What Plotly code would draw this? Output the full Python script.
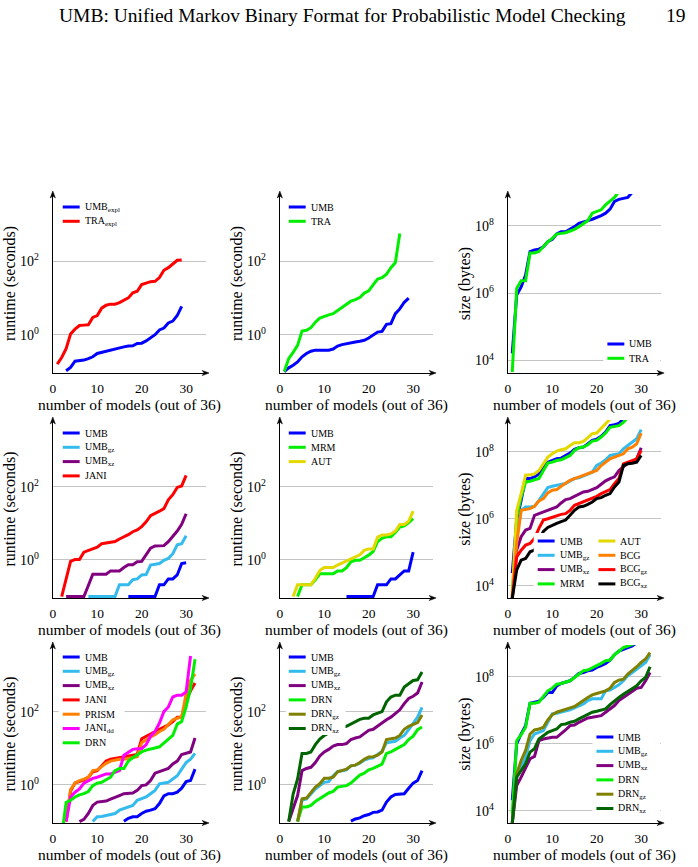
import plotly.graph_objects as go

W, H = 698, 867
SERIF = "Liberation Serif"

# ---------------- data (log10 of value; x = number of models, from *_start) ----------------
x_ticks = [0, 10, 20, 30]
runtime_tickvals = [1, 100]
runtime_ticktext = ["10<sup>0</sup>", "10<sup>2</sup>"]
size_tickvals = [1e4, 1e6, 1e8]
size_ticktext = ["10<sup>4</sup>", "10<sup>6</sup>", "10<sup>8</sup>"]
x_title = "number of models (out of 36)"

# panel 1 (runtime, seconds)
p1_umb_expl_start = 3
p1_umb_expl = [-0.98, -0.89, -0.72, -0.71, -0.69, -0.65, -0.60, -0.51, -0.48, -0.44, -0.40, -0.38, -0.36, -0.33,
               -0.31, -0.30, -0.24, -0.23, -0.17, -0.09, 0.00, 0.13, 0.18, 0.32, 0.37, 0.52, 0.77]
p1_tra_expl_start = 1
p1_tra_expl = [-0.80, -0.62, -0.38, 0.02, 0.15, 0.25, 0.26, 0.27, 0.47, 0.52, 0.72, 0.80, 0.83, 0.83, 0.87, 0.94,
               1.00, 1.14, 1.18, 1.36, 1.40, 1.44, 1.45, 1.55, 1.75, 1.82, 1.92, 2.02, 2.03]

# panel 2 (runtime)
p2_umb_start = 1
p2_umb = [-1.0, -0.9, -0.83, -0.74, -0.60, -0.51, -0.45, -0.42, -0.42, -0.42, -0.42, -0.39, -0.31, -0.27, -0.24,
          -0.22, -0.20, -0.18, -0.15, -0.09, 0.00, 0.07, 0.09, 0.28, 0.30, 0.57, 0.70, 0.88, 0.99]
p2_tra_start = 1
p2_tra = [-1.0, -0.65, -0.48, -0.29, 0.10, 0.12, 0.19, 0.34, 0.45, 0.50, 0.54, 0.57, 0.65, 0.74, 0.83, 0.91, 0.95,
          1.01, 1.13, 1.19, 1.35, 1.51, 1.55, 1.64, 1.82, 1.96, 2.75]

# panel 3 (size, bytes)
p3_umb_start = 1
p3_umb = [4.21, 5.95, 6.19, 6.54, 7.24, 7.29, 7.31, 7.38, 7.53, 7.60, 7.76, 7.83, 7.83, 7.90, 7.98, 8.08, 8.13,
          8.16, 8.20, 8.25, 8.31, 8.38, 8.50, 8.73, 8.79, 8.82, 8.85, 9.00]
p3_tra_start = 1
p3_tra = [3.66, 6.14, 6.37, 6.37, 7.20, 7.20, 7.24, 7.40, 7.53, 7.63, 7.76, 7.78, 7.80, 7.85, 7.90, 7.98, 8.08,
          8.16, 8.38, 8.43, 8.48, 8.63, 8.73, 8.85, 9.02]

# panel 4 (runtime)
p4_umb_start = 17
p4_umb = [-1, -1, -1, -1, -1, -1, -1, -0.68, -0.68, -0.52, -0.52, -0.41, -0.10, -0.08]
p4_umb_gz_start = 8
p4_umb_gz = [-1, -1, -1, -1, -1, -1, -1, -0.68, -0.68, -0.68, -0.54, -0.52, -0.41, -0.40, -0.14, -0.13, -0.10,
             -0.01, 0.04, 0.17, 0.41, 0.44, 0.66]
p4_umb_xz_start = 3
p4_umb_xz = [-1, -1, -1, -1, -1, -0.70, -0.39, -0.39, -0.39, -0.39, -0.30, -0.30, -0.30, -0.21, -0.13, -0.13,
             -0.05, -0.04, 0.13, 0.32, 0.38, 0.39, 0.39, 0.50, 0.63, 0.79, 0.97, 1.26]
p4_jani_start = 2
p4_jani = [-1, -0.5, -0.04, 0.01, 0.01, 0.21, 0.26, 0.32, 0.35, 0.44, 0.46, 0.46, 0.50, 0.57, 0.62, 0.69, 0.77,
           0.82, 0.91, 1.04, 1.21, 1.26, 1.33, 1.40, 1.64, 1.78, 1.98, 2.02, 2.31]

# panel 5 (runtime)
p5_umb_start = 15
p5_umb = [-1, -1, -1, -1, -1, -1, -1, -0.68, -0.68, -0.68, -0.52, -0.52, -0.41, -0.30, -0.30, 0.21]
p5_mrm_start = 4
p5_mrm = [-1, -0.68, -0.68, -0.68, -0.54, -0.38, -0.38, -0.38, -0.38, -0.30, -0.30, -0.21, -0.05, -0.01, -0.01,
          0.06, 0.13, 0.23, 0.50, 0.59, 0.63, 0.63, 0.75, 0.90, 0.93, 1.02, 1.13]
p5_aut_start = 3
p5_aut = [-1, -0.68, -0.68, -0.68, -0.68, -0.50, -0.29, -0.21, -0.21, -0.21, -0.14, -0.08, -0.03, 0.04, 0.10,
          0.14, 0.26, 0.30, 0.30, 0.62, 0.68, 0.68, 0.71, 0.79, 0.97, 0.97, 1.06, 1.33]

# panel 6 (size)
p6_umb_start = 1
p6_umb = [4.37, 5.96, 6.55, 7.20, 7.20, 7.25, 7.34, 7.54, 7.69, 7.74, 7.79, 7.81, 7.89, 7.96, 8.07, 8.12, 8.14,
          8.24, 8.34, 8.38, 8.46, 8.59, 8.78, 8.81, 8.85, 8.98, 9.05]
p6_umb_gz_start = 1
p6_umb_gz = [3.62, 5.46, 6.25, 6.35, 6.35, 6.37, 6.55, 6.75, 6.93, 6.97, 7.00, 7.03, 7.05, 7.13, 7.20, 7.22, 7.27,
             7.34, 7.39, 7.59, 7.66, 7.76, 7.89, 7.92, 7.94, 8.09, 8.19, 8.29, 8.39, 8.66]
p6_umb_xz_start = 1
p6_umb_xz = [3.67, 5.06, 5.46, 5.66, 5.71, 6.10, 6.15, 6.20, 6.25, 6.30, 6.35, 6.47, 6.57, 6.60, 6.67, 6.73, 6.80,
             6.82, 6.87, 6.93, 7.03, 7.13, 7.20, 7.25, 7.44, 7.54, 7.66, 7.69, 7.79, 8.12]
p6_mrm_start = 1
p6_mrm = [3.72, 6.05, 6.65, 7.10, 7.12, 7.17, 7.20, 7.44, 7.66, 7.69, 7.74, 7.76, 7.82, 7.89, 8.04, 8.12, 8.14,
          8.21, 8.32, 8.34, 8.44, 8.56, 8.73, 8.75, 8.78, 8.88, 9.03]
p6_aut_start = 1
p6_aut = [3.67, 6.25, 6.75, 7.30, 7.31, 7.34, 7.44, 7.64, 7.84, 7.94, 8.02, 8.06, 8.09, 8.19, 8.27, 8.27, 8.31,
          8.42, 8.54, 8.56, 8.70, 8.85, 8.98, 9.05]
p6_bcg_start = 1
p6_bcg = [3.62, 5.26, 6.25, 6.27, 6.30, 6.37, 6.53, 6.60, 6.77, 6.85, 6.87, 6.97, 7.05, 7.15, 7.20, 7.25, 7.30,
          7.36, 7.39, 7.44, 7.59, 7.69, 7.79, 7.84, 7.89, 7.94, 8.09, 8.14, 8.24, 8.56]
p6_bcg_gz_start = 1
p6_bcg_gz = [3.62, 4.86, 5.06, 5.21, 5.26, 5.41, 5.71, 5.96, 6.00, 6.05, 6.10, 6.13, 6.15, 6.25, 6.40, 6.45, 6.50,
             6.55, 6.60, 6.67, 6.75, 6.80, 6.87, 7.05, 7.20, 7.64, 7.69, 7.72, 7.79, 8.04]
p6_bcg_xz_start = 1
p6_bcg_xz = [3.62, 4.47, 4.76, 4.81, 5.01, 5.06, 5.35, 5.62, 5.74, 5.81, 5.86, 5.91, 5.96, 6.10, 6.25, 6.35, 6.37,
             6.43, 6.50, 6.60, 6.63, 6.70, 6.75, 6.95, 7.10, 7.59, 7.64, 7.66, 7.69, 7.89]

# panel 7 (runtime)
p7_umb_start = 16
p7_umb = [-0.99, -0.91, -0.87, -0.87, -0.78, -0.72, -0.69, -0.65, -0.51, -0.30, -0.24, -0.24, -0.20, -0.09, 0.09,
          0.12, 0.43]
p7_umb_gz_start = 9
p7_umb_gz = [-1.0, -0.87, -0.86, -0.83, -0.82, -0.78, -0.69, -0.65, -0.60, -0.56, -0.42, -0.38, -0.33, -0.24,
             -0.15, 0.03, 0.04, 0.07, 0.16, 0.25, 0.43, 0.61, 0.70, 0.86]
p7_umb_xz_start = 6
p7_umb_xz = [-1.0, -0.94, -0.78, -0.56, -0.47, -0.45, -0.44, -0.39, -0.33, -0.29, -0.24, -0.22, -0.22, -0.15,
             -0.02, 0.00, 0.12, 0.32, 0.36, 0.39, 0.45, 0.57, 0.65, 0.83, 0.86, 0.90, 1.28]
p7_jani_start = 3
p7_jani = [-1.0, -0.17, 0.05, 0.09, 0.14, 0.21, 0.36, 0.39, 0.52, 0.65, 0.70, 0.72, 0.74, 0.77, 0.79, 0.81, 0.83,
           1.26, 1.33, 1.40, 1.46, 1.52, 1.58, 1.64, 1.73, 1.85, 1.85, 2.31, 2.57, 2.78]
p7_prism_start = 3
p7_prism = [-0.99, -0.13, 0.05, 0.12, 0.16, 0.21, 0.39, 0.41, 0.50, 0.59, 0.65, 0.68, 0.70, 0.70, 0.72, 0.74, 0.77,
            1.15, 1.24, 1.31, 1.37, 1.46, 1.52, 1.64, 1.78, 1.82, 1.85, 2.49, 2.85, 3.03]
p7_jani_dd_start = 3
p7_jani_dd = [-1.0, -0.33, -0.20, -0.11, 0.05, 0.12, 0.18, 0.21, 0.25, 0.30, 0.30, 0.34, 0.39, 0.81, 0.90, 0.97,
              0.99, 0.99, 1.10, 1.33, 1.46, 1.69, 2.00, 2.13, 2.40, 2.45, 2.45, 2.54, 3.52]
p7_drn_start = 2
p7_drn = [-1.4, -0.48, -0.42, -0.33, -0.27, -0.24, -0.18, -0.02, 0.05, 0.07, 0.14, 0.21, 0.39, 0.45, 0.45, 0.65,
          0.74, 0.83, 0.90, 0.95, 0.99, 1.01, 1.04, 1.15, 1.24, 1.35, 1.66, 1.73, 2.13, 2.63, 3.43]

# panel 8 (runtime)
p8_umb_start = 16
p8_umb = [-0.99, -0.93, -0.90, -0.84, -0.81, -0.75, -0.74, -0.69, -0.47, -0.33, -0.26, -0.26, -0.24, -0.09, 0.05,
          0.12, 0.39]
p8_umb_gz_start = 4
p8_umb_gz = [-1.0, -0.42, -0.38, -0.24, -0.11, -0.02, 0.07, 0.09, 0.25, 0.36, 0.39, 0.41, 0.52, 0.54, 0.59, 0.68,
             0.72, 0.74, 0.83, 0.92, 1.15, 1.17, 1.19, 1.28, 1.35, 1.51, 1.67, 1.85, 2.12]
p8_umb_xz_start = 2
p8_umb_xz = [-1.0, -0.65, -0.29, 0.39, 0.45, 0.48, 0.61, 0.79, 0.90, 0.97, 1.06, 1.10, 1.10, 1.13, 1.24, 1.28,
             1.31, 1.40, 1.49, 1.52, 1.61, 1.70, 1.78, 1.85, 1.96, 2.05, 2.22, 2.36, 2.42, 2.51, 2.81]
p8_drn_start = 4
p8_drn = [-1.0, -0.60, -0.60, -0.56, -0.45, -0.38, -0.30, -0.22, -0.18, -0.06, -0.04, -0.02, 0.05, 0.16, 0.27,
          0.32, 0.41, 0.45, 0.50, 0.57, 0.86, 0.90, 0.97, 1.04, 1.10, 1.24, 1.33, 1.51, 1.58]
p8_drn_gz_start = 4
p8_drn_gz = [-1.0, -0.38, -0.36, -0.22, -0.06, 0.03, 0.18, 0.18, 0.21, 0.36, 0.39, 0.43, 0.52, 0.54, 0.61, 0.70,
             0.76, 0.77, 0.81, 0.90, 1.24, 1.26, 1.28, 1.35, 1.52, 1.60, 1.64, 1.70, 1.91]
p8_drn_xz_start = 2
p8_drn_xz = [-1.0, -0.25, 0.16, 0.86, 0.86, 0.90, 1.10, 1.25, 1.35, 1.42, 1.48, 1.53, 1.58, 1.60, 1.67, 1.73, 1.79,
             1.82, 1.82, 1.91, 1.96, 2.00, 2.27, 2.40, 2.45, 2.45, 2.67, 2.76, 2.85, 2.87, 3.08]

# panel 9 (size)
p9_umb_start = 1
p9_umb = [4.31, 6.00, 6.29, 6.54, 7.21, 7.24, 7.27, 7.38, 7.53, 7.53, 7.73, 7.80, 7.83, 7.88, 7.98, 8.10, 8.13,
          8.18, 8.20, 8.28, 8.33, 8.40, 8.50, 8.66, 8.77, 8.82, 8.85, 8.92, 9.02]
p9_umb_gz_start = 1
p9_umb_gz = [3.63, 5.00, 5.30, 5.60, 6.09, 6.29, 6.34, 6.39, 6.64, 6.89, 6.91, 6.94, 6.99, 7.01, 7.07, 7.14, 7.19,
             7.29, 7.34, 7.34, 7.34, 7.58, 7.60, 7.68, 7.76, 7.88, 8.03, 8.13, 8.23, 8.33, 8.43, 8.66]
p9_umb_xz_start = 1
p9_umb_xz = [3.63, 4.75, 5.00, 5.30, 5.55, 5.62, 6.09, 6.14, 6.17, 6.19, 6.19, 6.29, 6.41, 6.54, 6.56, 6.64, 6.71,
             6.77, 6.79, 6.81, 6.84, 6.94, 7.04, 7.14, 7.29, 7.38, 7.48, 7.58, 7.66, 7.68, 7.88, 8.13]
p9_drn_start = 1
p9_drn = [3.91, 6.09, 6.27, 6.49, 7.21, 7.21, 7.24, 7.40, 7.58, 7.66, 7.78, 7.80, 7.83, 7.88, 7.98, 8.08, 8.18,
          8.20, 8.26, 8.33, 8.40, 8.48, 8.50, 8.66, 8.77, 8.87, 8.92, 8.97, 9.02]
p9_drn_gz_start = 1
p9_drn_gz = [3.63, 5.10, 5.50, 5.80, 6.29, 6.41, 6.44, 6.49, 6.71, 6.87, 6.94, 6.99, 7.04, 7.07, 7.11, 7.19, 7.29,
             7.38, 7.46, 7.50, 7.53, 7.58, 7.66, 7.83, 7.90, 7.93, 8.08, 8.18, 8.30, 8.43, 8.53, 8.72]
p9_drn_xz_start = 1
p9_drn_xz = [3.63, 5.00, 5.20, 5.40, 5.75, 5.85, 6.14, 6.24, 6.34, 6.39, 6.44, 6.57, 6.59, 6.64, 6.67, 6.74, 6.81,
             6.89, 6.94, 6.97, 7.01, 7.04, 7.17, 7.29, 7.38, 7.48, 7.56, 7.63, 7.73, 7.88, 7.98, 8.30]

# ---------------- styles ----------------
BLUE = "#0000ff"; RED = "#ff0000"; GREEN = "#00ee00"; CYAN = "#33bbee"; PURPLE = "#800080"
YELLOW = "#e3d800"; ORANGE = "#ff8000"; MAGENTA = "#ff00ff"; OLIVE = "#808000"; DKGREEN = "#006400"
BLACK = "#000000"

panels = [
    dict(kind="rt", series=[("UMB<sub>expl</sub>", BLUE, p1_umb_expl_start, p1_umb_expl),
                            ("TRA<sub>expl</sub>", RED, p1_tra_expl_start, p1_tra_expl)],
         legend=dict(cols=[(60, [0, 1])], y=207, box=(56, 198, 122, 230))),
    dict(kind="rt", series=[("UMB", BLUE, p2_umb_start, p2_umb), ("TRA", GREEN, p2_tra_start, p2_tra)],
         legend=dict(cols=[(287, [0, 1])], y=207, box=(284, 198, 332, 230))),
    dict(kind="sz", series=[("UMB", BLUE, p3_umb_start, p3_umb), ("TRA", GREEN, p3_tra_start, p3_tra)],
         legend=dict(cols=[(607, [0, 1])], y=344, box=(603, 336, 660, 366))),
    dict(kind="rt", series=[("UMB", BLUE, p4_umb_start, p4_umb), ("UMB<sub>gz</sub>", CYAN, p4_umb_gz_start, p4_umb_gz),
                            ("UMB<sub>xz</sub>", PURPLE, p4_umb_xz_start, p4_umb_xz),
                            ("JANI", RED, p4_jani_start, p4_jani)],
         legend=dict(cols=[(60, [0, 1, 2, 3])], y=433, box=(56, 424, 120, 481))),
    dict(kind="rt", series=[("UMB", BLUE, p5_umb_start, p5_umb), ("MRM", GREEN, p5_mrm_start, p5_mrm),
                            ("AUT", YELLOW, p5_aut_start, p5_aut)],
         legend=dict(cols=[(287, [0, 1, 2])], y=433, box=(284, 424, 334, 467))),
    dict(kind="sz", series=[("UMB", BLUE, p6_umb_start, p6_umb), ("UMB<sub>gz</sub>", CYAN, p6_umb_gz_start, p6_umb_gz),
                            ("UMB<sub>xz</sub>", PURPLE, p6_umb_xz_start, p6_umb_xz),
                            ("MRM", GREEN, p6_mrm_start, p6_mrm), ("AUT", YELLOW, p6_aut_start, p6_aut),
                            ("BCG", ORANGE, p6_bcg_start, p6_bcg),
                            ("BCG<sub>gz</sub>", RED, p6_bcg_gz_start, p6_bcg_gz),
                            ("BCG<sub>xz</sub>", BLACK, p6_bcg_xz_start, p6_bcg_xz)],
         legend=dict(cols=[(537, [0, 1, 2, 3]), (598, [4, 5, 6, 7])], y=541, box=(533, 533, 662, 590))),
    dict(kind="rt", series=[("UMB", BLUE, p7_umb_start, p7_umb), ("UMB<sub>gz</sub>", CYAN, p7_umb_gz_start, p7_umb_gz),
                            ("UMB<sub>xz</sub>", PURPLE, p7_umb_xz_start, p7_umb_xz),
                            ("JANI", RED, p7_jani_start, p7_jani), ("PRISM", ORANGE, p7_prism_start, p7_prism),
                            ("JANI<sub>dd</sub>", MAGENTA, p7_jani_dd_start, p7_jani_dd),
                            ("DRN", GREEN, p7_drn_start, p7_drn)],
         legend=dict(cols=[(60, [0, 1, 2, 3, 4, 5, 6])], y=657, box=(56, 649, 122, 750))),
    dict(kind="rt", series=[("UMB", BLUE, p8_umb_start, p8_umb), ("UMB<sub>gz</sub>", CYAN, p8_umb_gz_start, p8_umb_gz),
                            ("UMB<sub>xz</sub>", PURPLE, p8_umb_xz_start, p8_umb_xz),
                            ("DRN", GREEN, p8_drn_start, p8_drn),
                            ("DRN<sub>gz</sub>", OLIVE, p8_drn_gz_start, p8_drn_gz),
                            ("DRN<sub>xz</sub>", DKGREEN, p8_drn_xz_start, p8_drn_xz)],
         legend=dict(cols=[(287, [0, 1, 2, 3, 4, 5])], y=657, box=(284, 649, 344, 735))),
    dict(kind="sz", series=[("UMB", BLUE, p9_umb_start, p9_umb), ("UMB<sub>gz</sub>", CYAN, p9_umb_gz_start, p9_umb_gz),
                            ("UMB<sub>xz</sub>", PURPLE, p9_umb_xz_start, p9_umb_xz),
                            ("DRN", GREEN, p9_drn_start, p9_drn),
                            ("DRN<sub>gz</sub>", OLIVE, p9_drn_gz_start, p9_drn_gz),
                            ("DRN<sub>xz</sub>", DKGREEN, p9_drn_xz_start, p9_drn_xz)],
         legend=dict(cols=[(596, [0, 1, 2, 3, 4, 5])], y=737, box=(592, 729, 660, 817))),
]

COL_LEFT = [50, 278, 507]
ROW_TOP = [194, 420, 645]
ROW_BOT = [373, 598, 823]
AX_W = 154
X_RANGE = [0, 34.5]
RT_RANGE = [-1.04, 3.82]
SZ_RANGE = [3.63, 8.95]
ROW_STEP = 14.3


def fx(p):
    return p / W


def fy(p):
    return 1 - p / H


fig = go.Figure()
layout = {}
shapes = []
annotations = []

for i, p in enumerate(panels):
    r, c = divmod(i, 3)
    sfx = "" if i == 0 else str(i + 1)
    x0, x1 = COL_LEFT[c], COL_LEFT[c] + AX_W
    y_top, y_bot = ROW_TOP[r], ROW_BOT[r]
    for name, color, start, logs in p["series"]:
        fig.add_trace(go.Scatter(
            x=list(range(start, start + len(logs))), y=[10 ** v for v in logs],
            mode="lines", name=name, line=dict(color=color, width=3),
            xaxis="x" + sfx, yaxis="y" + sfx, showlegend=False))
    layout["xaxis" + sfx] = dict(
        domain=[fx(x0), fx(x1)], anchor="y" + sfx, range=X_RANGE, tickvals=x_ticks,
        showline=True, linecolor="black", linewidth=1, showgrid=False, zeroline=False,
        ticks="outside", ticklen=3, tickcolor="rgba(0,0,0,0)",
        tickfont=dict(family=SERIF, size=13.5, color="black"),
        layer="below traces", fixedrange=True)
    rt = p["kind"] == "rt"
    layout["yaxis" + sfx] = dict(
        domain=[fy(y_bot), fy(y_top)], anchor="x" + sfx, type="log",
        range=RT_RANGE if rt else SZ_RANGE,
        tickvals=runtime_tickvals if rt else size_tickvals,
        ticktext=runtime_ticktext if rt else size_ticktext,
        showline=True, linecolor="black", linewidth=1, showgrid=True, gridcolor="#c4c4c4", gridwidth=1,
        zeroline=False, ticks="outside", ticklen=10, tickcolor="rgba(0,0,0,0)",
        tickfont=dict(family=SERIF, size=14, color="black"),
        title=dict(text="runtime (seconds)" if rt else "size (bytes)",
                   font=dict(family=SERIF, size=16, color="black"), standoff=0),
        layer="below traces", fixedrange=True)
    # x-axis title
    annotations.append(dict(x=fx(x0 + AX_W / 2), y=fy(y_bot + 32), xref="paper", yref="paper", text=x_title,
                            showarrow=False, xanchor="center", yanchor="middle",
                            font=dict(family=SERIF, size=15.5, color="black")))
    # axis arrow heads
    yb = y_bot
    shapes.append(dict(type="path", xref="paper", yref="paper", layer="above",
                       path=f"M {fx(x1 + 3)},{fy(yb)} L {fx(x1 - 4)},{fy(yb - 2.6)} "
                            f"L {fx(x1 - 2)},{fy(yb)} L {fx(x1 - 4)},{fy(yb + 2.6)} Z",
                       fillcolor="black", line=dict(color="black", width=0.5)))
    shapes.append(dict(type="line", xref="paper", yref="paper", layer="above",
                       x0=fx(x1), x1=fx(x1 + 1), y0=fy(yb), y1=fy(yb), line=dict(color="black", width=1)))
    shapes.append(dict(type="path", xref="paper", yref="paper", layer="above",
                       path=f"M {fx(x0)},{fy(y_top - 3)} L {fx(x0 - 2.6)},{fy(y_top + 4)} "
                            f"L {fx(x0)},{fy(y_top + 2)} L {fx(x0 + 2.6)},{fy(y_top + 4)} Z",
                       fillcolor="black", line=dict(color="black", width=0.5)))
    # legend
    lg = p["legend"]
    bx0, by0, bx1, by1 = lg["box"]
    shapes.append(dict(type="rect", xref="paper", yref="paper", x0=fx(bx0), x1=fx(bx1), y0=fy(by1), y1=fy(by0),
                       fillcolor="white", line=dict(width=0), layer="above"))
    for sx, idxs in lg["cols"]:
        for k, idx in enumerate(idxs):
            name, color, _, _ = p["series"][idx]
            yy = lg["y"] + k * ROW_STEP
            shapes.append(dict(type="line", xref="paper", yref="paper", x0=fx(sx), x1=fx(sx + 17),
                               y0=fy(yy), y1=fy(yy), line=dict(color=color, width=3), layer="above"))
            annotations.append(dict(x=fx(sx + 20), y=fy(yy), xref="paper", yref="paper", text=name,
                                    showarrow=False, xanchor="left", yanchor="middle",
                                    font=dict(family=SERIF, size=10, color="black")))

# page header
annotations.append(dict(x=fx(341), y=fy(16), xref="paper", yref="paper", showarrow=False,
                        text="UMB: Unified Markov Binary Format for Probabilistic Model Checking",
                        xanchor="center", yanchor="middle", font=dict(family=SERIF, size=19.5, color="black")))
annotations.append(dict(x=fx(688), y=fy(16), xref="paper", yref="paper", showarrow=False, text="19",
                        xanchor="right", yanchor="middle", font=dict(family=SERIF, size=19.5, color="black")))

fig.update_layout(width=W, height=H, margin=dict(l=0, r=0, t=0, b=0), paper_bgcolor="white",
                  plot_bgcolor="white", showlegend=False, shapes=shapes, annotations=annotations, **layout)

fig.write_html("out.html")
